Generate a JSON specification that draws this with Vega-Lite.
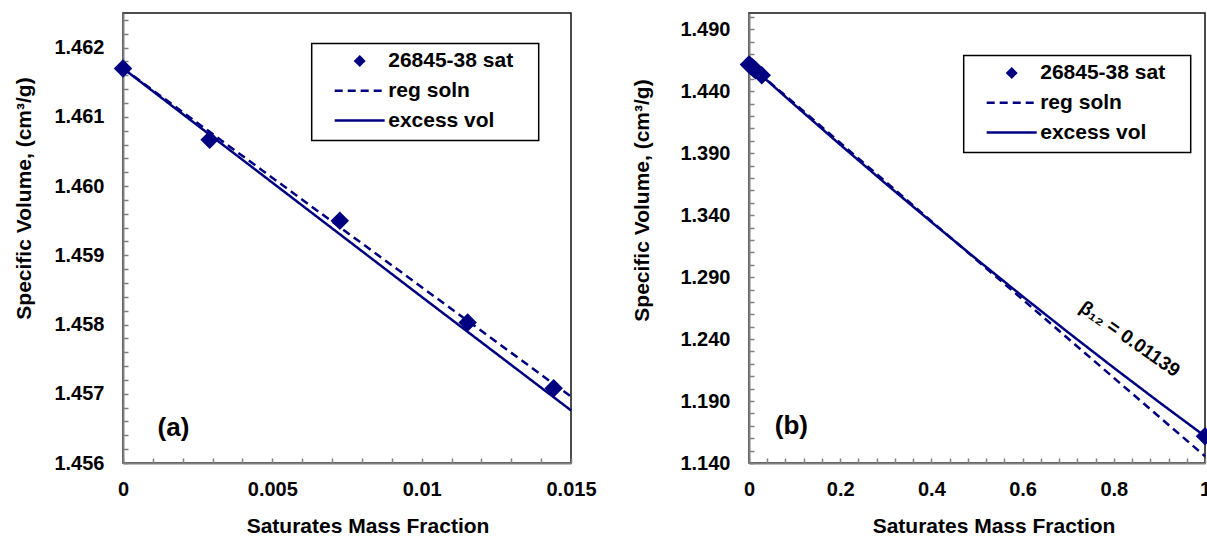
{
  "$schema": "https://vega.github.io/schema/vega-lite/v6.json",
  "background": "white",
  "padding": {"left": 12, "top": 6, "right": 0, "bottom": 0},
  "spacing": 33,
  "config": {
    "font": "Liberation Sans",
    "view": {"stroke": "#111111", "strokeWidth": 1.5},
    "axis": {
      "grid": false,
      "domainColor": "#808080",
      "domainWidth": 2,
      "tickColor": "#808080",
      "tickWidth": 1.5,
      "tickSize": -5,
      "labelFont": "Liberation Sans",
      "labelFontSize": 20,
      "labelFontWeight": "bold",
      "labelColor": "black",
      "labelOverlap": false,
      "labelFlush": false,
      "titleFont": "Liberation Sans",
      "titleFontSize": 21,
      "titleFontWeight": "bold",
      "titleColor": "black",
      "titleAlign": "center",
      "titleBaseline": "middle"
    },
    "axisY": {"titleAngle": -90},
    "axisX": {"titleX": 244.5, "titleY": 63},
    "legend": {
      "labelFont": "Liberation Sans",
      "labelFontSize": 21,
      "labelFontWeight": "bold",
      "labelColor": "black",
      "labelLimit": 0,
      "symbolSize": 784,
      "symbolStrokeWidth": 2.5,
      "symbolOffset": 30.5,
      "labelOffset": 13,
      "padding": 2,
      "rowPadding": 3.8,
      "strokeColor": "black",
      "fillColor": "white"
    }
  },
  "resolve": {
    "scale": {"color": "independent", "shape": "independent", "strokeDash": "independent"},
    "legend": {"color": "independent", "shape": "independent", "strokeDash": "independent"}
  },
  "hconcat": [
    {
      "width": 448,
      "height": 450,
      "data": {
        "values": [
          {"series": "26845-38 sat", "w": 0, "v": 1.4617},
          {"series": "26845-38 sat", "w": 0.0029, "v": 1.46067},
          {"series": "26845-38 sat", "w": 0.00726, "v": 1.4595},
          {"series": "26845-38 sat", "w": 0.01154, "v": 1.45803},
          {"series": "26845-38 sat", "w": 0.01442, "v": 1.45708},
          {"series": "reg soln", "w": 0, "v": 1.4617},
          {"series": "reg soln", "w": 0.015, "v": 1.45696},
          {"series": "excess vol", "w": 0, "v": 1.4617},
          {"series": "excess vol", "w": 0.005, "v": 1.46005},
          {"series": "excess vol", "w": 0.01, "v": 1.4584},
          {"series": "excess vol", "w": 0.015, "v": 1.45676}
        ]
      },
      "encoding": {
        "x": {
          "field": "w",
          "type": "quantitative",
          "title": "Saturates Mass Fraction",
          "scale": {"domain": [0, 0.015], "nice": false, "zero": false},
          "axis": {
            "values": [0, 0.001, 0.002, 0.003, 0.004, 0.005, 0.006, 0.007, 0.008, 0.009, 0.01, 0.011, 0.012, 0.013, 0.014, 0.015],
            "labelExpr": "abs(datum.value*200 - round(datum.value*200)) < 0.001 ? format(datum.value, '~g') : ''",
            "labelPadding": 21.5
          }
        },
        "y": {
          "field": "v",
          "type": "quantitative",
          "title": "Specific Volume, (cm³/g)",
          "scale": {"domain": [1.456, 1.4625], "nice": false, "zero": false},
          "axis": {
            "values": [1.456, 1.4562, 1.4564, 1.4566, 1.4568, 1.457, 1.4572, 1.4574, 1.4576, 1.4578, 1.458, 1.4582, 1.4584, 1.4586, 1.4588, 1.459, 1.4592, 1.4594, 1.4596, 1.4598, 1.46, 1.4602, 1.4604, 1.4606, 1.4608, 1.461, 1.4612, 1.4614, 1.4616, 1.4618, 1.462, 1.4622, 1.4624],
            "labelExpr": "abs(datum.value*1000 - round(datum.value*1000)) < 0.001 ? format(datum.value, '.3f') : ''",
            "labelPadding": 24,
            "titleX": -99,
            "titleY": 185
          }
        }
      },
      "layer": [
        {
          "transform": [{"filter": "datum.series != '26845-38 sat'"}],
          "mark": {"type": "line", "strokeWidth": 2.5},
          "encoding": {
            "order": {"field": "w", "type": "quantitative"},
            "color": {
              "field": "series", "type": "nominal",
              "scale": {"domain": ["26845-38 sat", "reg soln", "excess vol"], "range": ["#000080", "#000080", "#000080"]},
              "legend": {"title": null, "orient": "none", "legendX": 188.7, "legendY": 30.5,
                "encode": {"symbols": {"update": {"fill": {"value": "#000080"}, "stroke": {"value": "#000080"}, "strokeWidth": {"value": 2.5}, "opacity": {"value": 1}}}, "legend": {"update": {"strokeWidth": {"value": 1.5}}}}}
            },
            "strokeDash": {
              "field": "series", "type": "nominal",
              "scale": {"domain": ["26845-38 sat", "reg soln", "excess vol"], "range": [[1, 0], [8, 5], [1, 0]]},
              "legend": {"title": null, "orient": "none", "legendX": 188.7, "legendY": 30.5,
                "encode": {"symbols": {"update": {"fill": {"value": "#000080"}, "stroke": {"value": "#000080"}, "strokeWidth": {"value": 2.5}, "opacity": {"value": 1}}}, "legend": {"update": {"strokeWidth": {"value": 1.5}}}}}
            }
          }
        },
        {
          "transform": [{"filter": "datum.series == '26845-38 sat'"}],
          "mark": {"type": "point", "filled": true, "opacity": 1, "size": 3800},
          "encoding": {
            "color": {
              "field": "series", "type": "nominal",
              "scale": {"domain": ["26845-38 sat", "reg soln", "excess vol"], "range": ["#000080", "#000080", "#000080"]},
              "legend": {"title": null, "orient": "none", "legendX": 188.7, "legendY": 30.5,
                "encode": {"symbols": {"update": {"fill": {"value": "#000080"}, "stroke": {"value": "#000080"}, "strokeWidth": {"value": 2.5}, "opacity": {"value": 1}}}, "legend": {"update": {"strokeWidth": {"value": 1.5}}}}}
            },
            "shape": {
              "field": "series", "type": "nominal",
              "scale": {"domain": ["26845-38 sat", "reg soln", "excess vol"], "range": ["M0,-0.3L0.3,0L0,0.3L-0.3,0Z", "M-3.286,0M12.28,0M-1.786,0L1.786,0", "M0,0.9M-1.786,0L1.786,0"]},
              "legend": {"title": null, "orient": "none", "legendX": 188.7, "legendY": 30.5,
                "encode": {"symbols": {"update": {"fill": {"value": "#000080"}, "stroke": {"value": "#000080"}, "strokeWidth": {"value": 2.5}, "opacity": {"value": 1}}}, "legend": {"update": {"strokeWidth": {"value": 1.5}}}}}
            }
          }
        },
        {
          "data": {"values": [{"w": 0.00169, "v": 1.45651, "label": "(a)"}]},
          "mark": {"type": "text", "font": "Liberation Sans", "fontWeight": "bold", "fontSize": 26, "color": "black", "align": "center", "baseline": "middle"},
          "encoding": {"text": {"field": "label", "type": "nominal"}}
        }
      ]
    },
    {
      "width": 456,
      "height": 450,
      "data": {
        "values": [
          {"series": "26845-38 sat", "w": 0, "v": 1.4617},
          {"series": "26845-38 sat", "w": 0.0029, "v": 1.46067},
          {"series": "26845-38 sat", "w": 0.00726, "v": 1.4595},
          {"series": "26845-38 sat", "w": 0.01154, "v": 1.45803},
          {"series": "26845-38 sat", "w": 0.01442, "v": 1.45708},
          {"series": "26845-38 sat", "w": 0.028, "v": 1.4529},
          {"series": "26845-38 sat", "w": 1, "v": 1.1616},
          {"series": "reg soln", "w": 0, "v": 1.4617},
          {"series": "reg soln", "w": 1, "v": 1.1455},
          {"series": "excess vol", "w": 0, "v": 1.4617},
          {"series": "excess vol", "w": 0.1, "v": 1.42901},
          {"series": "excess vol", "w": 0.2, "v": 1.39691},
          {"series": "excess vol", "w": 0.3, "v": 1.36541},
          {"series": "excess vol", "w": 0.4, "v": 1.33451},
          {"series": "excess vol", "w": 0.5, "v": 1.3042},
          {"series": "excess vol", "w": 0.6, "v": 1.27449},
          {"series": "excess vol", "w": 0.7, "v": 1.24537},
          {"series": "excess vol", "w": 0.8, "v": 1.21685},
          {"series": "excess vol", "w": 0.9, "v": 1.18893},
          {"series": "excess vol", "w": 1, "v": 1.1616}
        ]
      },
      "encoding": {
        "x": {
          "field": "w",
          "type": "quantitative",
          "title": "Saturates Mass Fraction",
          "scale": {"domain": [0, 1], "nice": false, "zero": false},
          "axis": {
            "values": [0, 0.04, 0.08, 0.12, 0.16, 0.2, 0.24, 0.28, 0.32, 0.36, 0.4, 0.44, 0.48, 0.52, 0.56, 0.6, 0.64, 0.68, 0.72, 0.76, 0.8, 0.84, 0.88, 0.92, 0.96, 1],
            "labelExpr": "abs(datum.value*5 - round(datum.value*5)) < 0.001 ? format(datum.value, '~g') : ''",
            "labelPadding": 21.5
          }
        },
        "y": {
          "field": "v",
          "type": "quantitative",
          "title": "Specific Volume, (cm³/g)",
          "scale": {"domain": [1.14, 1.5032], "nice": false, "zero": false},
          "axis": {
            "values": [1.14, 1.15, 1.16, 1.17, 1.18, 1.19, 1.2, 1.21, 1.22, 1.23, 1.24, 1.25, 1.26, 1.27, 1.28, 1.29, 1.3, 1.31, 1.32, 1.33, 1.34, 1.35, 1.36, 1.37, 1.38, 1.39, 1.4, 1.41, 1.42, 1.43, 1.44, 1.45, 1.46, 1.47, 1.48, 1.49, 1.5],
            "labelExpr": "abs((datum.value-1.14)*20 - round((datum.value-1.14)*20)) < 0.001 ? format(datum.value, '.3f') : ''",
            "labelPadding": 24,
            "titleX": -106.7,
            "titleY": 187
          }
        }
      },
      "layer": [
        {
          "transform": [{"filter": "datum.series != '26845-38 sat'"}],
          "mark": {"type": "line", "strokeWidth": 2.5},
          "encoding": {
            "order": {"field": "w", "type": "quantitative"},
            "color": {
              "field": "series", "type": "nominal",
              "scale": {"domain": ["26845-38 sat", "reg soln", "excess vol"], "range": ["#000080", "#000080", "#000080"]},
              "legend": {"title": null, "orient": "none", "legendX": 214.7, "legendY": 42.5,
                "encode": {"symbols": {"update": {"fill": {"value": "#000080"}, "stroke": {"value": "#000080"}, "strokeWidth": {"value": 2.5}, "opacity": {"value": 1}}}, "legend": {"update": {"strokeWidth": {"value": 1.5}}}}}
            },
            "strokeDash": {
              "field": "series", "type": "nominal",
              "scale": {"domain": ["26845-38 sat", "reg soln", "excess vol"], "range": [[1, 0], [8, 5], [1, 0]]},
              "legend": {"title": null, "orient": "none", "legendX": 214.7, "legendY": 42.5,
                "encode": {"symbols": {"update": {"fill": {"value": "#000080"}, "stroke": {"value": "#000080"}, "strokeWidth": {"value": 2.5}, "opacity": {"value": 1}}}, "legend": {"update": {"strokeWidth": {"value": 1.5}}}}}
            }
          }
        },
        {
          "transform": [{"filter": "datum.series == '26845-38 sat'"}],
          "mark": {"type": "point", "filled": true, "opacity": 1, "size": 3800},
          "encoding": {
            "color": {
              "field": "series", "type": "nominal",
              "scale": {"domain": ["26845-38 sat", "reg soln", "excess vol"], "range": ["#000080", "#000080", "#000080"]},
              "legend": {"title": null, "orient": "none", "legendX": 214.7, "legendY": 42.5,
                "encode": {"symbols": {"update": {"fill": {"value": "#000080"}, "stroke": {"value": "#000080"}, "strokeWidth": {"value": 2.5}, "opacity": {"value": 1}}}, "legend": {"update": {"strokeWidth": {"value": 1.5}}}}}
            },
            "shape": {
              "field": "series", "type": "nominal",
              "scale": {"domain": ["26845-38 sat", "reg soln", "excess vol"], "range": ["M0,-0.3L0.3,0L0,0.3L-0.3,0Z", "M-3.286,0M12.28,0M-1.786,0L1.786,0", "M0,0.9M-1.786,0L1.786,0"]},
              "legend": {"title": null, "orient": "none", "legendX": 214.7, "legendY": 42.5,
                "encode": {"symbols": {"update": {"fill": {"value": "#000080"}, "stroke": {"value": "#000080"}, "strokeWidth": {"value": 2.5}, "opacity": {"value": 1}}}, "legend": {"update": {"strokeWidth": {"value": 1.5}}}}}
            }
          }
        },
        {
          "data": {"values": [{"w": 0.093, "v": 1.1699, "label": "(b)"}]},
          "mark": {"type": "text", "font": "Liberation Sans", "fontWeight": "bold", "fontSize": 26, "color": "black", "align": "center", "baseline": "middle"},
          "encoding": {"text": {"field": "label", "type": "nominal"}}
        },
        {
          "data": {"values": [{"w": 0.835, "v": 1.2401, "label": "β₁₂ = 0.01139"}]},
          "mark": {"type": "text", "font": "Liberation Sans", "fontWeight": "bold", "fontSize": 19, "color": "black", "align": "center", "baseline": "middle", "angle": 35},
          "encoding": {"text": {"field": "label", "type": "nominal"}}
        }
      ]
    }
  ]
}
